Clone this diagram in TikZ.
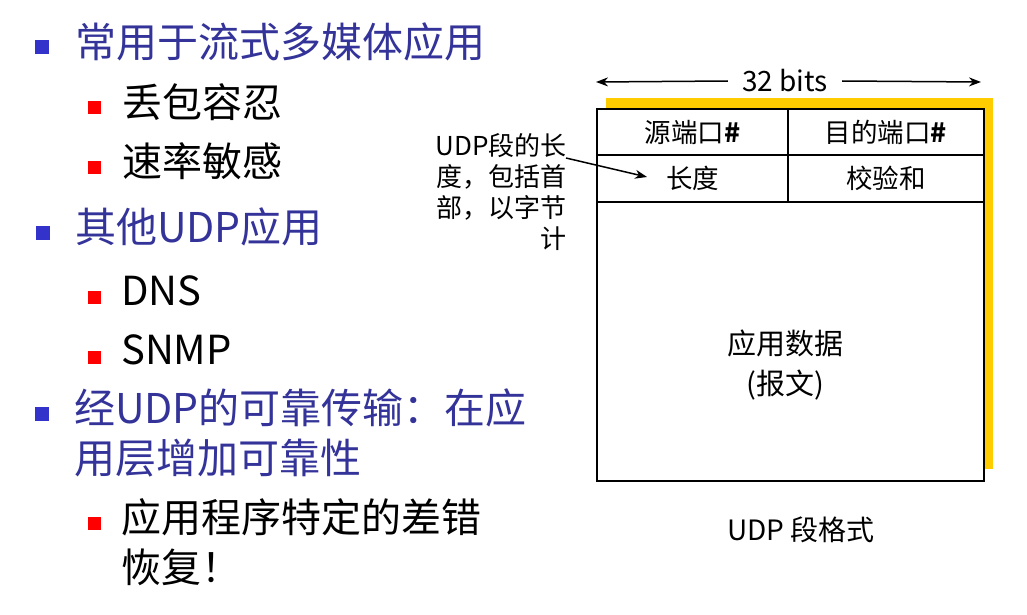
\documentclass[tikz,border=0pt]{standalone}
\usepackage{fontspec}
\setmainfont{Noto Sans CJK SC}
\usetikzlibrary{positioning}
\usetikzlibrary{arrows.meta}
\definecolor{itemblue}{RGB}{51,51,153}
\definecolor{sqblue}{RGB}{51,51,204}
\definecolor{shadowyellow}{RGB}{255,204,0}
\tikzset{>={Stealth[length=12pt, width=9pt]}}
\tikzset{bluesq/.style={fill=sqblue, minimum size=14pt, inner sep=0pt}}
\tikzset{redsq/.style={fill=red, minimum size=13pt, inner sep=0pt}}
\tikzset{topitem/.style={anchor=west, inner sep=0pt, text=itemblue, font=\fontsize{41}{48}\selectfont}}
\tikzset{subitem/.style={anchor=west, inner sep=0pt, font=\fontsize{40}{48}\selectfont}}
\tikzset{cell/.style={draw, fill=white, line width=2.5pt, inner sep=0pt, font=\fontsize{26.5}{30}\selectfont}}

\begin{document}
\begin{tikzpicture}[x=1pt, y=-1pt]
\useasboundingbox (0,0) rectangle (1027,615);

% bullet list
\node[bluesq] (s1) at (42,47.5) {};
\node[topitem] (b1) at (75,42) {常用于流式多媒体应用};
\node[redsq] (s11) at (94.5,108) {};
\node[subitem] (i11) at (122,102) {丢包容忍};
\node[redsq] (s12) at (94.5,167.5) {};
\node[subitem] (i12) at (122,161) {速率敏感};

\node[bluesq] (s2) at (43,233) {};
\node[topitem] (b2) at (75,227) {其他UDP应用};
\node[redsq] (s21) at (94.5,297.5) {};
\node[subitem] (i21) at (121,291) {DNS};
\node[redsq] (s22) at (94.5,357.5) {};
\node[subitem] (i22) at (121,350) {SNMP};

\node[bluesq] (s3) at (42,414) {};
\node[topitem] (b3) at (74,408) {经UDP的可靠传输：在应};
\node[topitem] (b3b) at (74,458) {用层增加可靠性};
\node[redsq] (s31) at (94.5,523.5) {};
\node[subitem] (i31) at (121,517) {应用程序特定的差错};
\node[subitem] (i31b) at (121,567) {恢复！};

% segment format
\fill[shadowyellow] (606,98) rectangle (993,469);

\begin{scope}[on grid]
\node[cell, minimum width=191pt, minimum height=46pt] (src) at (692.5,132) {源端口\textbf{\#}};
\node[cell, minimum width=196pt, minimum height=46pt] (dst) [right = 193.5pt of src] {目的端口\textbf{\#}};
\node[cell, minimum width=191pt, minimum height=47pt] (len) [below = 46.5pt of src] {长度};
\node[cell, minimum width=196pt, minimum height=47pt] (sum) [below = 46.5pt of dst] {校验和};
\node[cell, minimum width=387pt, minimum height=279pt] (data) at (790.5,341.5) {};
\end{scope}
\node[align=center, inner sep=0pt, font=\fontsize{29}{40}\selectfont] (msg) at (785,365) {应用数据\\(报文)};

\node[inner xsep=14pt, inner ysep=0pt, font=\fontsize{28}{32}\selectfont] (bits) at (785,81) {32 bits};
\coordinate (wl) at (596,82);
\coordinate (wr) at (981,82);
\draw[->, line width=1.5pt] (bits.west) -- (wl);
\draw[->, line width=1.5pt] (bits.east) -- (wr);

\node[anchor=east, align=right, inner sep=0pt, font=\fontsize{26}{31}\selectfont] (note) at (567,192) {UDP段的长\\度，包括首\\部，以字节\\计};
\coordinate (tail) at (566,158);
\coordinate (head) at (647,177);
\draw[->, line width=1.5pt] (tail) -- (head);

\node[inner sep=0pt, font=\fontsize{28}{32}\selectfont] (cap) at (801,530) {UDP 段格式};
\end{tikzpicture}
\end{document}
